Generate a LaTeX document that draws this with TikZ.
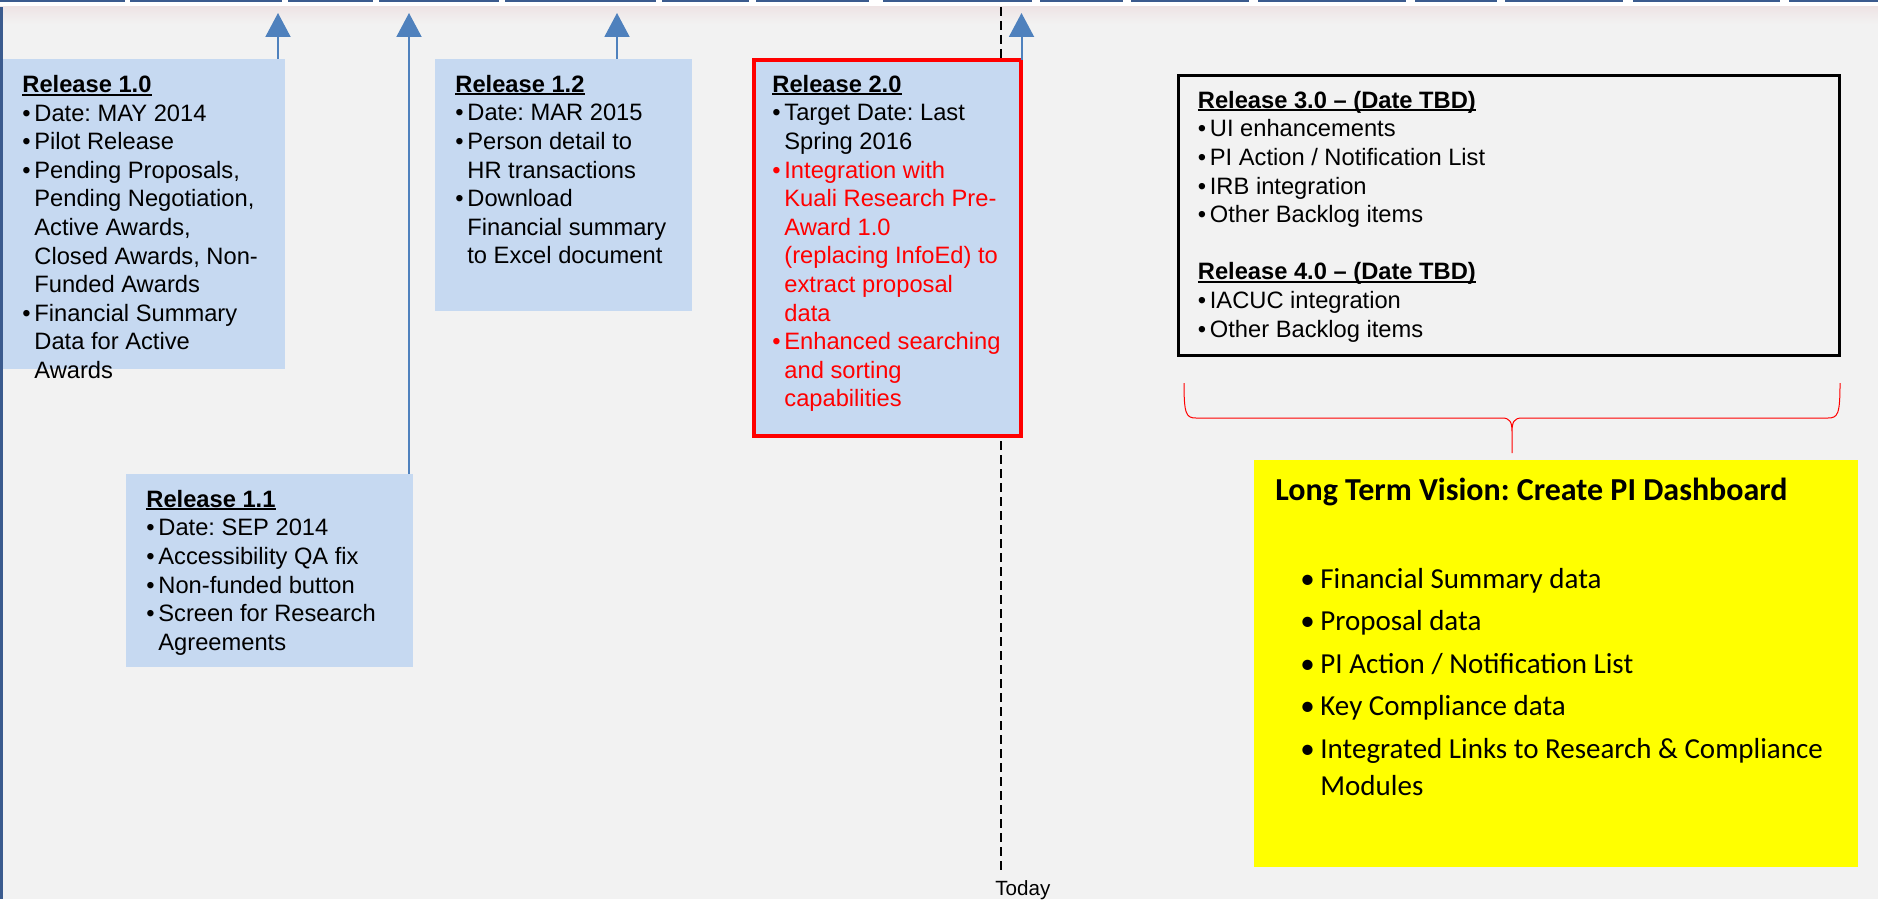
\documentclass[tikz,border=0pt]{standalone}
\usepackage{fontspec}
\setmainfont{Liberation Sans}
\newfontfamily\calibri{Carlito}
\usetikzlibrary{arrows.meta,positioning}
\definecolor{slidegray}{HTML}{F2F2F2}
\definecolor{boxblue}{HTML}{C6D9F1}
\definecolor{arrowblue}{HTML}{4F81BD}
\definecolor{barblue}{HTML}{3B5B8E}
\definecolor{bandpink}{HTML}{EEE4E5}
\definecolor{visionyellow}{HTML}{FFFF00}
\frenchspacing
\newcommand{\bl}[1][6pt]{\makebox[#1][l]{\textbullet}}
\newcommand{\ind}[1][6pt]{\hspace*{#1}}
\newcommand{\rtitle}[1]{\setbox0\hbox{\textbf{#1}}\rlap{\rule[-1.5pt]{\wd0}{0.9pt}}\box0}
\newcommand{\rd}{\color{red}}
\begin{document}
\begin{tikzpicture}[x=0.5pt,y=-0.5pt,font=\fontsize{11.85pt}{14.3pt}\selectfont]
  \tikzstyle{release box}=[fill=boxblue,anchor=north west,inner sep=0,outer sep=0]
  \tikzstyle{release text}=[anchor=north west,inner sep=0,align=left]
  \tikzstyle{up arrow}=[arrowblue,line width=1pt,-{Triangle[width=12.5pt,length=12pt]}]
  \tikzstyle{bar}=[fill=barblue]
  \tikzstyle{today line}=[black,line width=0.75pt,dash pattern=on 4.5pt off 2.5pt]
  \tikzstyle{vision brace}=[red,line width=0.5pt]

  % slide background and timeline bar
  \fill[slidegray] (0,0) rectangle (1878,899);
  \useasboundingbox (0,0) rectangle (1878,899);
  \fill[white] (0,0) rectangle (1878,7);
  \shade[top color=bandpink,bottom color=slidegray] (0,7) rectangle (1878,24);
  \foreach \a/\b in {0/125,130/282,288/373,379/499,505/656,662/749,756/869,883/1032,
      1040/1123,1131/1249,1258/1406,1415/1497,1505/1623,1633/1780,1789/1878}
    \fill[bar] (\a,0) rectangle (\b,2.5);

  % today marker
  \node[anchor=base west,inner sep=0,font=\fontsize{10.3pt}{12pt}\selectfont] (today) at (995,895) {Today};
  \coordinate (now) at (1001,7);
  \draw[today line,shorten >=3.5pt] (now) -- (now |- today.north);

  % releases
  \node[release box,minimum width=141.5pt,minimum height=155pt] (r10) at (2,59) {};
  \node[release text] (t10) at ([shift={(20,16)}]r10.north west) {\rtitle{Release 1.0}\\
    \bl Date: MAY 2014\\
    \bl Pilot Release\\
    \bl Pending Proposals,\\
    \ind Pending Negotiation,\\
    \ind Active Awards,\\
    \ind Closed Awards, Non-\\
    \ind Funded Awards\\
    \bl Financial Summary\\
    \ind Data for Active\\
    \ind Awards};

  \node[release box,minimum width=143.5pt,minimum height=96.5pt] (r11) at (126,474) {};
  \node[release text] (t11) at ([shift={(20,15.7)}]r11.north west) {\rtitle{Release 1.1}\\
    \bl Date: SEP 2014\\
    \bl Accessibility QA fix\\
    \bl Non-funded button\\
    \bl Screen for Research\\
    \ind Agreements};

  \node[release box,minimum width=128.5pt,minimum height=126pt] (r12) at (435,59) {};
  \node[release text] (t12) at ([shift={(20,15.7)}]r12.north west) {\rtitle{Release 1.2}\\
    \bl Date: MAR 2015\\
    \bl Person detail to\\
    \ind HR transactions\\
    \bl Download\\
    \ind Financial summary\\
    \ind to Excel document};

  \node[release box,draw=red,line width=2pt,minimum width=133.5pt,minimum height=188pt] (r20) at (754,60) {};
  \node[release text] (t20) at ([shift={(18,14.7)}]r20.north west) {\rtitle{Release 2.0}\\
    \bl Target Date: Last\\
    \ind Spring 2016\\
    \rd\bl Integration with\\
    \rd\ind Kuali Research Pre-\\
    \rd\ind Award 1.0\\
    \rd\ind (replacing InfoEd) to\\
    \rd\ind extract proposal\\
    \rd\ind data\\
    \rd\bl Enhanced searching\\
    \rd\ind and sorting\\
    \rd\ind capabilities};

  \node[release box,fill=none,draw=black,line width=1.5pt,minimum width=330.5pt,minimum height=140pt] (r30) at (1178.5,75.5) {};
  \node[release text] (t30) at ([shift={(19,15.2)}]r30.north west) {\rtitle{Release 3.0 – (Date TBD)}\\
    \bl UI enhancements\\
    \bl PI Action / Notification List\\
    \bl IRB integration\\
    \bl Other Backlog items\\
    \mbox{}\\
    \rtitle{Release 4.0 – (Date TBD)}\\
    \bl IACUC integration\\
    \bl Other Backlog items};

  % arrows up to the timeline
  \coordinate (a10) at (278,13);
  \coordinate (a11) at (409,13);
  \coordinate (a12) at (617,13);
  \coordinate (a20) at (1021.5,13);
  \draw[up arrow] (r10.north -| a10) -- (a10);
  \draw[up arrow] (r11.north -| a11) -- (a11);
  \draw[up arrow] (r12.north -| a12) -- (a12);
  \draw[up arrow] (r20.north -| a20) -- (a20);

  % brace and long term vision
  \draw[vision brace] (1184,383) .. controls (1184,414) and (1186,418) .. (1196,418) -- (1502,418)
    .. controls (1510,418) and (1512,422) .. (1512,432) -- (1512,453) -- (1512,432)
    .. controls (1512,422) and (1514,418) .. (1522,418) -- (1828,418)
    .. controls (1838,418) and (1840,414) .. (1840,383);
  \node[release box,fill=visionyellow,minimum width=302pt,minimum height=203.5pt] (vision) at (1254,460) {};
  \node[anchor=base west,inner sep=0,font=\calibri\fontsize{16pt}{19pt}\selectfont\bfseries] (vtitle) at (1275,500) {Long Term Vision: Create PI Dashboard};
  \node[release text,font=\calibri\fontsize{14.5pt}{18.5pt}\selectfont] (vlist) at (1300,568) {\bl[10pt]Financial Summary data\\[2.7pt]
    \bl[10pt]Proposal data\\[2.7pt]
    \bl[10pt]PI Action / Notification List\\[2.7pt]
    \bl[10pt]Key Compliance data\\[2.7pt]
    \bl[10pt]Integrated Links to Research \& Compliance\\
    \ind[10pt]Modules};

  % left edge
  \fill[bar] (0,7) rectangle (3,899);
\end{tikzpicture}
\end{document}
